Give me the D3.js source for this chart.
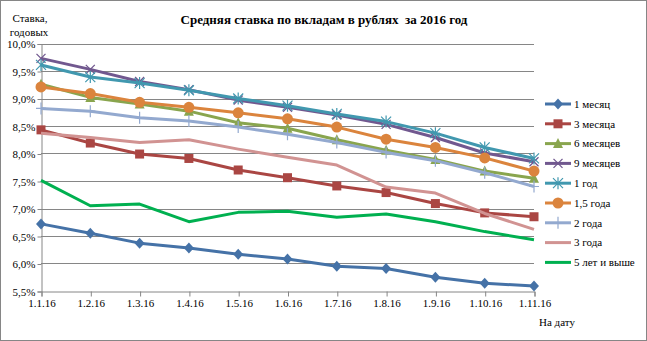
<!DOCTYPE html>
<html>
<head>
<meta charset="utf-8">
<script src="https://cdn.jsdelivr.net/npm/d3@7"></script>
<style>
  html, body { margin: 0; padding: 0; background: #fff; }
  svg { display: block; }
  text { font-family: "Liberation Serif", "Times New Roman", serif; fill: #000; }
</style>
</head>
<body>
<svg id="chart" width="647" height="341"></svg>
<script>
// Dates (first day of each month, 2016)
const dates = ["1.1.16","1.2.16","1.3.16","1.4.16","1.5.16","1.6.16","1.7.16","1.8.16","1.9.16","1.10.16","1.11.16"];

// Average deposit rate, % per year, by term
const m1   = [6.72, 6.55, 6.37, 6.28, 6.17, 6.08, 5.95, 5.91, 5.75, 5.64, 5.59];
const m3   = [8.43, 8.19, 7.99, 7.91, 7.70, 7.56, 7.41, 7.29, 7.09, 6.92, 6.85];
const m6   = [9.26, 9.02, 8.90, 8.77, 8.56, 8.46, 8.25, 8.06, 7.89, 7.68, 7.55];
const m9   = [9.73, 9.53, 9.31, 9.16, 8.97, 8.84, 8.70, 8.53, 8.29, 8.01, 7.85];
const y1   = [9.61, 9.39, 9.28, 9.15, 9.00, 8.87, 8.72, 8.58, 8.37, 8.11, 7.91];
const y15  = [9.21, 9.09, 8.93, 8.84, 8.74, 8.63, 8.48, 8.26, 8.11, 7.92, 7.68];
const y2   = [8.82, 8.77, 8.65, 8.59, 8.48, 8.35, 8.20, 8.02, 7.87, 7.65, 7.40];
const y3   = [8.37, 8.29, 8.20, 8.25, 8.08, 7.93, 7.79, 7.39, 7.28, 6.91, 6.62];
const y5   = [7.51, 7.05, 7.08, 6.76, 6.93, 6.95, 6.84, 6.90, 6.76, 6.58, 6.43];

const yTicks = [5.5, 6.0, 6.5, 7.0, 7.5, 8.0, 8.5, 9.0, 9.5, 10.0];

const series = [
  { name: "1 месяц",     values: m1,  color: "#4572A7", marker: "diamond" },
  { name: "3 месяца",    values: m3,  color: "#AA4643", marker: "square" },
  { name: "6 месяцев",   values: m6,  color: "#89A54E", marker: "triangle" },
  { name: "9 месяцев",   values: m9,  color: "#71588F", marker: "x" },
  { name: "1 год",       values: y1,  color: "#4198AF", marker: "star" },
  { name: "1,5 года",    values: y15, color: "#DB843D", marker: "circle" },
  { name: "2 года",      values: y2,  color: "#93A9CF", marker: "plus" },
  { name: "3 года",      values: y3,  color: "#D19392", marker: "none" },
  { name: "5 лет и выше", values: y5, color: "#00B050", marker: "none" }
];

const svg = d3.select("#chart");
const W = 647, H = 341;
const plot = { left: 41, right: 534, top: 43.5, bottom: 291 };

// Outer frame
svg.append("rect").attr("x", 0.5).attr("y", 0.5).attr("width", W - 1).attr("height", H - 1)
  .attr("fill", "#fff").attr("stroke", "#868686").attr("stroke-width", 1);

const x = d3.scalePoint().domain(dates).range([plot.left, plot.right]);
const y = d3.scaleLinear().domain([5.5, 10]).range([plot.bottom, plot.top]);

const fmt = v => d3.format(".1f")(v).replace(".", ",") + "%";

// Horizontal gridlines
svg.append("g").selectAll("line").data(yTicks.filter(t => t > 5.5)).join("line")
  .attr("x1", plot.left).attr("x2", plot.right)
  .attr("y1", d => Math.round(y(d)) + 0.5).attr("y2", d => Math.round(y(d)) + 0.5)
  .attr("stroke", "#868686").attr("stroke-width", 1);

// Y axis
const yAxis = d3.axisLeft(y).tickValues(yTicks).tickFormat(fmt).tickSize(4).tickPadding(2);
const gy = svg.append("g").attr("transform", `translate(${plot.left + 0.5},0.5)`).call(yAxis);
gy.select(".domain").attr("stroke", "#868686");
gy.selectAll(".tick line").attr("stroke", "#868686");
gy.selectAll(".tick text").attr("font-family", "Liberation Serif, serif").attr("font-size", 11).attr("fill", "#000")
  .attr("dy", "0.32em");

// X axis
const xAxis = d3.axisBottom(x).tickSize(5).tickPadding(3);
const gx = svg.append("g").attr("transform", `translate(0.5,${Math.round(plot.bottom) + 0.5})`).call(xAxis);
gx.select(".domain").attr("stroke", "#868686");
gx.selectAll(".tick line").attr("stroke", "#868686");
gx.selectAll(".tick text").attr("font-family", "Liberation Serif, serif").attr("font-size", 11).attr("fill", "#000");

// Marker drawing
function drawMarker(g, type, color, cx, cy) {
  const s = g.append("g").attr("transform", `translate(${cx},${cy})`);
  switch (type) {
    case "diamond":
      s.append("path").attr("d", "M0,-5.5L5,0L0,5.5L-5,0Z").attr("fill", color);
      break;
    case "square":
      s.append("rect").attr("x", -4.5).attr("y", -4.5).attr("width", 9).attr("height", 9).attr("fill", color);
      break;
    case "triangle":
      s.append("path").attr("d", "M0,-5.5L5,4.5L-5,4.5Z").attr("fill", color);
      break;
    case "x":
      s.append("path").attr("d", "M-4.5,-4.5L4.5,4.5M-4.5,4.5L4.5,-4.5").attr("stroke", color).attr("stroke-width", 1.3);
      break;
    case "star":
      s.append("path").attr("d", "M-5,-5L5,5M-5,5L5,-5M0,-6L0,6").attr("stroke", color).attr("stroke-width", 1.2);
      break;
    case "circle":
      s.append("circle").attr("r", 5.5).attr("fill", color);
      break;
    case "plus":
      s.append("path").attr("d", "M0,-6L0,6M-5,0L5,0").attr("stroke", color).attr("stroke-width", 1.2);
      break;
  }
}

const line = d3.line().x((d, i) => x(dates[i])).y(d => y(d));

const gLines = svg.append("g");
series.forEach(s => {
  const g = gLines.append("g");
  g.append("path").attr("d", line(s.values)).attr("fill", "none")
    .attr("stroke", s.color).attr("stroke-width", 3).attr("stroke-linejoin", "round");
  if (s.marker !== "none") {
    s.values.forEach((v, i) => drawMarker(g, s.marker, s.color, x(dates[i]), y(v)));
  }
});

// Legend
const legend = svg.append("g");
series.forEach((s, i) => {
  const ly = 104 + i * 19.8;
  const g = legend.append("g");
  g.append("line").attr("x1", 545).attr("x2", 571).attr("y1", ly).attr("y2", ly)
    .attr("stroke", s.color).attr("stroke-width", 3);
  if (s.marker !== "none") drawMarker(g, s.marker, s.color, 558, ly);
  g.append("text").attr("x", 574).attr("y", ly).attr("dy", "0.35em")
    .attr("font-size", 11).text(s.name);
});

// Title
svg.append("text").attr("x", 324).attr("y", 24).attr("text-anchor", "middle")
  .attr("font-size", 13).attr("font-weight", "bold")
  .text("Средняя ставка по вкладам в рублях  за 2016 год").attr("xml:space", "preserve").style("white-space", "pre");

// Y axis title
svg.append("text").attr("x", 30).attr("y", 22).attr("text-anchor", "middle").attr("font-size", 11).text("Ставка,");
svg.append("text").attr("x", 29).attr("y", 36).attr("text-anchor", "middle").attr("font-size", 11).text("годовых");

// X axis title
svg.append("text").attr("x", 557).attr("y", 326).attr("text-anchor", "middle").attr("font-size", 11).text("На дату");
</script>
</body>
</html>
